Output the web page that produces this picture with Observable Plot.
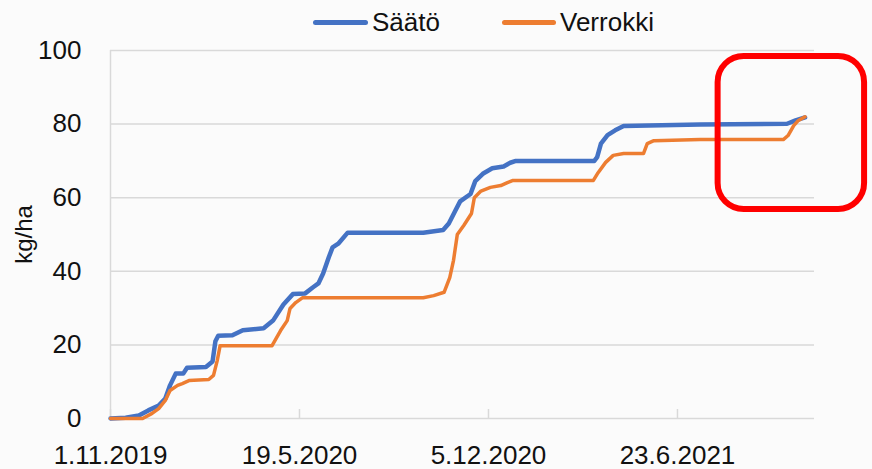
<!DOCTYPE html>
<html>
<head>
<meta charset="utf-8">
<script src="https://cdn.jsdelivr.net/npm/d3@7"></script>
<script src="https://cdn.jsdelivr.net/npm/@observablehq/plot@0.6"></script>
<style>
  html, body { margin: 0; padding: 0; background: #fbfbfb; }
  #wrap { position: relative; width: 872px; height: 469px; font-family: "Liberation Sans", Arial, sans-serif; color: #111; }
  #legend { position: relative; height: 26px; }
  .sw { position: absolute; height: 5px; border-radius: 3px; }
  .lt { position: absolute; font-size: 26px; line-height: 26px; white-space: nowrap; }
  #chart svg { display: block; overflow: visible; }
</style>
</head>
<body>
<div id="wrap">
  <div id="legend"></div>
  <div id="chart"></div>
</div>
<script>
// Series names and colours
const seriesNames = ["Säätö", "Verrokki"];
const seriesColors = ["#4472C4", "#ED7D31"];

// Säätö (cumulative kg/ha)
const saatoDates = ["2019-11-01","2019-11-17","2019-12-01","2019-12-11","2019-12-22","2019-12-29","2020-01-03","2020-01-09","2020-01-17","2020-01-21","2020-02-10","2020-02-17","2020-02-20","2020-02-23","2020-03-09","2020-03-20","2020-04-11","2020-04-21","2020-05-02","2020-05-12","2020-05-25","2020-06-02","2020-06-08","2020-06-13","2020-06-19","2020-06-23","2020-06-29","2020-07-09","2020-09-27","2020-10-18","2020-10-24","2020-10-31","2020-11-05","2020-11-16","2020-11-21","2020-11-29","2020-12-09","2020-12-21","2020-12-28","2021-01-03","2021-03-27","2021-03-30","2021-04-03","2021-04-10","2021-04-18","2021-04-27","2021-07-17","2021-10-17","2021-10-26","2021-11-05"];
const saatoValues = [0,0.2,0.8,2.2,3.5,5.4,9,12.2,12.2,13.8,14,15.5,21,22.5,22.6,24,24.5,26.6,31,33.8,34,35.6,36.7,39.4,43.8,46.5,47.5,50.5,50.5,51.2,53,56.5,59,61,64.5,66.5,68,68.5,69.5,70,70,71,74.7,77,78.3,79.5,79.9,80.1,81,81.8];

// Verrokki (cumulative kg/ha)
const verrokkiDates = ["2019-11-01","2019-12-05","2019-12-15","2019-12-22","2019-12-29","2020-01-03","2020-01-11","2020-01-16","2020-01-23","2020-02-13","2020-02-18","2020-02-22","2020-02-25","2020-04-20","2020-04-29","2020-05-06","2020-05-09","2020-05-15","2020-05-22","2020-09-27","2020-10-08","2020-10-19","2020-10-25","2020-10-29","2020-11-02","2020-11-09","2020-11-17","2020-11-20","2020-11-27","2020-12-07","2020-12-18","2020-12-25","2020-12-31","2021-03-26","2021-03-31","2021-04-08","2021-04-16","2021-04-27","2021-05-18","2021-05-22","2021-05-29","2021-07-17","2021-10-13","2021-10-18","2021-10-24","2021-10-29","2021-11-05"];
const verrokkiValues = [0,0,1.4,2.7,4.9,7.6,9,9.5,10.3,10.6,11.7,15.8,19.8,19.8,23.9,26.6,29.9,31.5,32.8,32.8,33.4,34.3,38.3,43,50,52.5,55.7,60,61.8,62.8,63.3,64.1,64.7,64.7,66.8,69.6,71.5,72,72,74.7,75.5,75.8,75.8,76.9,79.6,81,82];

// Axes
const xDomain = ["2019-11-01", "2021-11-15"];
const xTickDates = ["2019-11-01", "2020-05-19", "2020-12-05", "2021-06-23"];
const yTicks = [0, 20, 40, 60, 80, 100];
const yLabel = "kg/ha";

// Highlight box (annotation), in data units
const highlight = [{x1: "2021-08-05", x2: "2022-01-07", y1: 56.8, y2: 98.4}];

const parse = s => new Date(s + "T00:00:00Z");
const rows = [];
saatoDates.forEach((d, i) => rows.push({series: seriesNames[0], date: parse(d), value: saatoValues[i]}));
verrokkiDates.forEach((d, i) => rows.push({series: seriesNames[1], date: parse(d), value: verrokkiValues[i]}));
const fmt = d => `${d.getUTCDate()}.${d.getUTCMonth() + 1}.${d.getUTCFullYear()}`;
const ticks = xTickDates.map(parse);
const hl = highlight.map(h => ({x1: parse(h.x1), x2: parse(h.x2), y1: h.y1, y2: h.y2}));

// Legend (HTML above the SVG)
const legend = document.getElementById("legend");
const legendPos = [{line: 313, text: 372, w: 55}, {line: 502, text: 560, w: 54}];
seriesNames.forEach((name, i) => {
  const sw = document.createElement("div");
  sw.className = "sw";
  sw.style.left = legendPos[i].line + "px";
  sw.style.width = legendPos[i].w + "px";
  sw.style.top = "20px";
  sw.style.background = seriesColors[i];
  legend.appendChild(sw);
  const t = document.createElement("div");
  t.className = "lt";
  t.style.left = legendPos[i].text + "px";
  t.style.top = "9px";
  t.textContent = name;
  legend.appendChild(t);
});

const chart = Plot.plot({
  width: 872,
  height: 443,
  marginTop: 24,
  marginBottom: 51,
  marginLeft: 110,
  marginRight: 58,
  style: {fontFamily: "'Liberation Sans', Arial, sans-serif", fontSize: "26px", color: "#111", background: "transparent", overflow: "visible"},
  x: {type: "utc", domain: xDomain.map(parse)},
  y: {domain: [0, 100]},
  color: {domain: seriesNames, range: seriesColors},
  marks: [
    Plot.gridY(yTicks, {stroke: "#d9d9d9", strokeOpacity: 1, strokeWidth: 1.5}),
    Plot.ruleX([ticks[0]], {stroke: "#d9d9d9", strokeWidth: 1.5}),
    Plot.ruleX(ticks, {y1: 0, y2: 2.45, stroke: "#d9d9d9", strokeWidth: 1.5}),
    Plot.axisY({ticks: yTicks, tickSize: 0, tickPadding: 29, label: null, fontSize: 26, fill: "#111"}),
    Plot.axisX({ticks: ticks, tickFormat: fmt, tickSize: 0, tickPadding: 27, label: null, fontSize: 26, fill: "#111"}),
    Plot.text([yLabel], {frameAnchor: "left", rotate: -90, dx: -86, text: d => d, fontSize: 24, fill: "#111", lineAnchor: "middle", textAnchor: "middle"}),
    Plot.line(rows.filter(r => r.series === seriesNames[0]), {x: "date", y: "value", stroke: seriesColors[0], strokeWidth: 4.5, strokeLinejoin: "round", strokeLinecap: "round"}),
    Plot.line(rows.filter(r => r.series === seriesNames[1]), {x: "date", y: "value", stroke: seriesColors[1], strokeWidth: 3.5, strokeLinejoin: "round", strokeLinecap: "round"}),
    Plot.rect(hl, {x1: "x1", x2: "x2", y1: "y1", y2: "y2", rx: 26, fill: "none", stroke: "#ff0000", strokeWidth: 6})
  ]
});
document.getElementById("chart").appendChild(chart);
</script>
</body>
</html>
